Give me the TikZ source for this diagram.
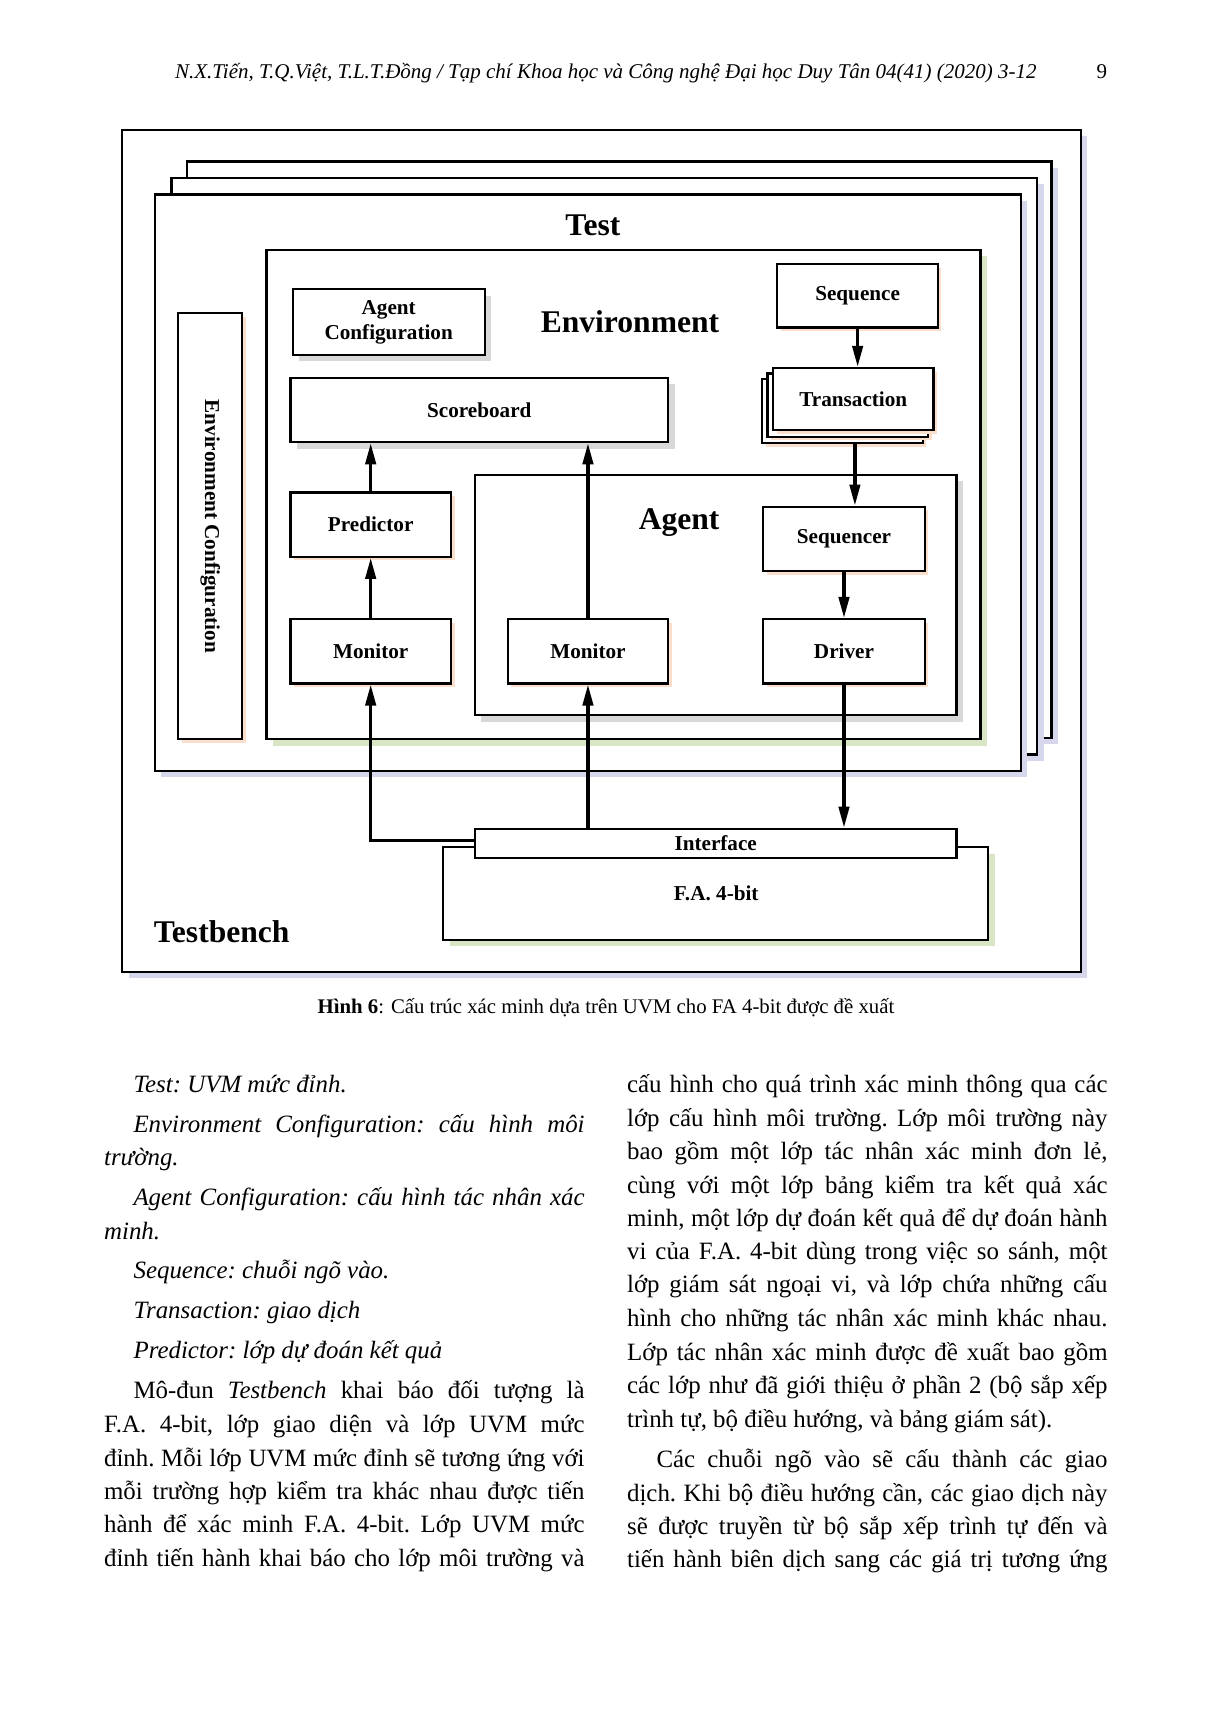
\documentclass[tikz,border=0pt]{standalone}
\usepackage{fontspec}
\setmainfont{Liberation Serif}
\usetikzlibrary{arrows.meta,fit,shadows,calc}

\definecolor{lav}{RGB}{214,214,236}
\definecolor{grn}{RGB}{216,230,198}
\definecolor{peach}{RGB}{250,224,204}
\definecolor{gry}{RGB}{216,216,216}

\newcommand{\myBody}{\fontsize{12.45}{16}\selectfont\frenchspacing}
\newcommand{\myLbl}{\fontsize{10.6}{12.5}\selectfont\bfseries}
\newcommand{\myBig}{\fontsize{15.8}{18}\selectfont\bfseries}
\newcommand{\JL}[1]{\makebox[240.3pt][s]{#1}}
\newcommand{\IND}{\hspace*{14.7pt}}

\tikzset{
  box/.style={draw=black, line width=1.1pt, fill=white, inner sep=0pt},
  bigbox/.style={draw=black, line width=1.2pt, fill=white, inner sep=0pt},
  lavsh/.style={general shadow={fill=lav, shadow xshift=3.2pt, shadow yshift=-3.2pt}},
  grnsh/.style={general shadow={fill=grn, shadow xshift=3.2pt, shadow yshift=-3.2pt}},
  grysh/.style={general shadow={fill=gry, shadow xshift=3.2pt, shadow yshift=-3.2pt}},
  peachsh/.style={general shadow={fill=peach, shadow xshift=1.8pt, shadow yshift=-1.8pt}},
  every label/.style={font=\myLbl, align=center, inner sep=0pt},
  arr/.style={line width=1.6pt, -{Triangle[length=10.5pt,width=5.2pt]}},
  txt/.style={anchor=base west, inner sep=0pt, font=\myBody},
  biglbl/.style={inner sep=0pt, font=\myBig}
}

\begin{document}
\begin{tikzpicture}[x=0.54605pt,y=-0.54605pt]
\fill[white] (0,0) rectangle (1108,1568);
\useasboundingbox (0,0) rectangle (1108,1568);

% header
\node[txt, font=\fontsize{10.5}{12}\selectfont\itshape] (hdr) at (160,72) {N.X.Tiến, T.Q.Việt, T.L.T.Đồng / Tạp chí Khoa học và Công nghệ Đại học Duy Tân 04(41) (2020) 3-12};
\node[txt, font=\fontsize{10.5}{12}\selectfont] (pg) at (1004,72) {9};

% Testbench
\node[bigbox, lavsh, fit={(112,119) (990,890)}] (tb) {};
\node[biglbl] (tblbl) at (203,853) {Testbench};

% Test stack
\node[bigbox, lavsh, fit={(171,148) (963,676)}] (test3) {};
\node[bigbox, lavsh, fit={(157,163) (950,691)}] (test2) {};
\node[bigbox, lavsh, fit={(142,178) (935,706)}] (test) {};
\node[biglbl] (testlbl) at (543,206) {Test};

% Environment configuration
\node[box, peachsh, fit={(163,287) (222,677)}] (envcfg) {};
\node[inner sep=0pt, font=\myLbl, rotate=-90] (envcfglbl) at (envcfg.center) {Environment Configuration};

% Environment
\node[box, grnsh, fit={(244,229) (898,677)}] (env) {};
\node[biglbl] (envlbl) at (577,295) {Environment};

\node[box, grysh, fit={(268,265) (444,325)}, label={center:Agent\\Configuration}] (agcfg) {};
\node[box, peachsh, fit={(712,242) (859,300)}, label={center:Sequence}] (seq) {};

% Transaction stack
\node[box, peachsh, fit={(698,347) (845,406)}] (trans3) {};
\node[box, peachsh, fit={(703,342) (850,400)}] (trans2) {};
\node[box, peachsh, fit={(708,337) (855,394)}, label={center:Transaction}] (trans) {};

\node[box, grysh, fit={(266,346) (612,405)}, label={center:Scoreboard}] (sb) {};

% Agent
\node[box, grysh, fit={(435,435) (876,655)}] (agent) {};
\node[biglbl] (agentlbl) at (622,479) {Agent};

\node[box, peachsh, fit={(266,451) (413,510)}, label={center:Predictor}] (pred) {};
\node[box, peachsh, fit={(699,464) (847,523)}, label={center:Sequencer}] (sqr) {};
\node[box, peachsh, fit={(266,567) (413,626)}, label={center:Monitor}] (mon1) {};
\node[box, peachsh, fit={(465,567) (612,626)}, label={center:Monitor}] (mon2) {};
\node[box, peachsh, fit={(699,567) (847,626)}, label={center:Driver}] (drv) {};

% DUT
\node[box, grnsh, fit={(406,776) (905,861)}] (fa) {};
\node[inner sep=0pt, font=\myLbl] (falbl) at (656,818) {F.A. 4-bit};
\node[box, fit={(435,759) (876,786)}, label={center:Interface}] (intf) {};

% connectors
\draw[arr] (seq.south) -- (seq.south |- trans.north);
\draw[arr] ($(trans.center |- trans3.south)+(1.5,0)$) -- ($(trans.center |- sqr.north)+(1.5,0)$);
\draw[arr] (sqr.south) -- (drv.north);
\draw[arr] (drv.south) -- (drv.south |- intf.north);
\draw[arr] (mon1.north) -- (pred.south);
\draw[arr] (pred.north) -- (pred.north |- sb.south);
\draw[arr] (mon2.north) -- (mon2.north |- sb.south);
\draw[arr] (mon2.south |- intf.north) -- (mon2.south);
\draw[arr] ($(intf.west)+(0,-3)$) -| (mon1.south);

% caption
\node[anchor=base, inner sep=0pt, font=\fontsize{10.4}{12}\selectfont] (cap) at (555,928) {\textbf{Hình 6}: Cấu trúc xác minh dựa trên UVM cho FA 4-bit được đề xuất};

% left column
\node[txt] (l1) at (122,1001) {\textit{Test: UVM mức đỉnh.}};
\node[txt] (l2) at (95,1037) {\JL{\IND\textit{Environment Configuration: cấu hình môi}}};
\node[txt] (l3) at (95,1067) {\textit{trường.}};
\node[txt] (l4) at (95,1104) {\JL{\IND\textit{Agent Configuration: cấu hình tác nhân xác}}};
\node[txt] (l5) at (95,1135) {\textit{minh.}};
\node[txt] (l6) at (122,1171) {\textit{Sequence: chuỗi ngõ vào.}};
\node[txt] (l7) at (122,1208) {\textit{Transaction: giao dịch}};
\node[txt] (l8) at (122,1244) {\textit{Predictor: lớp dự đoán kết quả}};
\node[txt] (l9) at (95,1281) {\JL{\IND Mô-đun \textit{Testbench} khai báo đối tượng là}};
\node[txt] (l10) at (95,1312) {\JL{F.A. 4-bit, lớp giao diện và lớp UVM mức}};
\node[txt] (l11) at (95,1343) {\JL{đỉnh. Mỗi lớp UVM mức đỉnh sẽ tương ứng với}};
\node[txt] (l12) at (95,1373) {\JL{mỗi trường hợp kiểm tra khác nhau được tiến}};
\node[txt] (l13) at (95,1404) {\JL{hành để xác minh F.A. 4-bit. Lớp UVM mức}};
\node[txt] (l14) at (95,1435) {\JL{đỉnh tiến hành khai báo cho lớp môi trường và}};

% right column
\node[txt] (r1) at (574,1001) {\JL{cấu hình cho quá trình xác minh thông qua các}};
\node[txt] (r2) at (574,1032) {\JL{lớp cấu hình môi trường. Lớp môi trường này}};
\node[txt] (r3) at (574,1062) {\JL{bao gồm một lớp tác nhân xác minh đơn lẻ,}};
\node[txt] (r4) at (574,1093) {\JL{cùng với một lớp bảng kiểm tra kết quả xác}};
\node[txt] (r5) at (574,1123) {\JL{minh, một lớp dự đoán kết quả để dự đoán hành}};
\node[txt] (r6) at (574,1154) {\JL{vi của F.A. 4-bit dùng trong việc so sánh, một}};
\node[txt] (r7) at (574,1184) {\JL{lớp giám sát ngoại vi, và lớp chứa những cấu}};
\node[txt] (r8) at (574,1215) {\JL{hình cho những tác nhân xác minh khác nhau.}};
\node[txt] (r9) at (574,1246) {\JL{Lớp tác nhân xác minh được đề xuất bao gồm}};
\node[txt] (r10) at (574,1276) {\JL{các lớp như đã giới thiệu ở phần 2 (bộ sắp xếp}};
\node[txt] (r11) at (574,1307) {trình tự, bộ điều hướng, và bảng giám sát).};
\node[txt] (r12) at (574,1344) {\JL{\IND Các chuỗi ngõ vào sẽ cấu thành các giao}};
\node[txt] (r13) at (574,1375) {\JL{dịch. Khi bộ điều hướng cần, các giao dịch này}};
\node[txt] (r14) at (574,1405) {\JL{sẽ được truyền từ bộ sắp xếp trình tự đến và}};
\node[txt] (r15) at (574,1436) {\JL{tiến hành biên dịch sang các giá trị tương ứng}};
\end{tikzpicture}
\end{document}
